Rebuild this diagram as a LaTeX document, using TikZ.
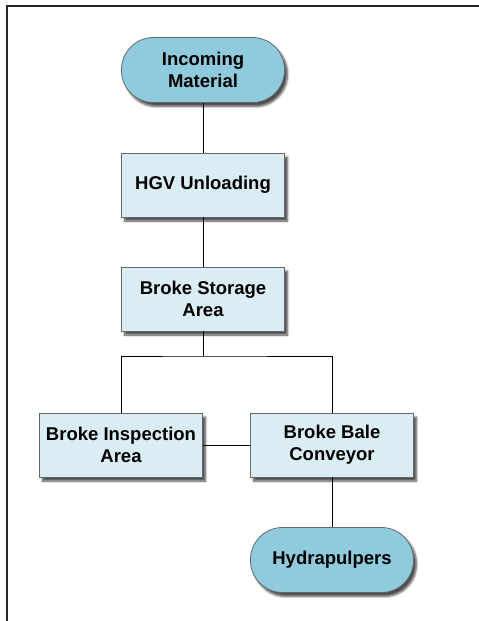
\documentclass[tikz,border=0pt]{standalone}
\definecolor{terminalblue}{RGB}{143,203,220}
\definecolor{stepblue}{RGB}{219,237,244}
\definecolor{outlinegrey}{RGB}{95,105,110}
\usepackage{fontspec}
\setmainfont{Liberation Sans}
\usetikzlibrary{shadows.blur}

\begin{document}
\begin{tikzpicture}[x=1pt,y=-1pt]

%
% Styles
%
\tikzstyle{boxtext}  = [font=\bfseries\fontsize{18.5}{22}\selectfont,align=center,text=black]
\tikzstyle{stepbox}  = [boxtext,rectangle,draw=outlinegrey,fill=stepblue,line width=0.8pt,
                        minimum width=163pt,minimum height=64pt,inner sep=2pt,
                        blur shadow={shadow xshift=3pt,shadow yshift=-4pt,shadow blur steps=6,shadow opacity=70}]
\tikzstyle{terminal} = [stepbox,fill=terminalblue,rounded corners=32pt,minimum height=65pt]
\tikzstyle{edge}     = [thick,black]
\tikzstyle{frame}    = [line width=2pt,black!85]

\useasboundingbox (0,0) rectangle (479,621);
\draw[frame] (479,6) -- (7,6) -- (7,621);

\node[terminal] (incoming) at (203, 70)  {Incoming\\Material};
\node[stepbox]  (hgv)      at (203,185)  {HGV Unloading};
\node[stepbox]  (storage)  at (203,299)  {Broke Storage\\Area};
\node[stepbox]  (inspect)  at (121,445)  {Broke Inspection\\Area};
\node[stepbox]  (bale)     at (332,445)  {Broke Bale\\Conveyor};
\node[terminal] (pulpers)  at (332,560)  {Hydrapulpers};

\coordinate (split) at (203,356);

\draw[edge] (incoming) -- (hgv);
\draw[edge] (hgv) -- (storage);
\draw[edge] (storage) -- (split);
\draw[edge] (inspect.north) |- (split) -| (bale.north);
\draw[edge] (inspect) -- (bale);
\draw[edge] (bale) -- (pulpers);

\end{tikzpicture}
\end{document}
